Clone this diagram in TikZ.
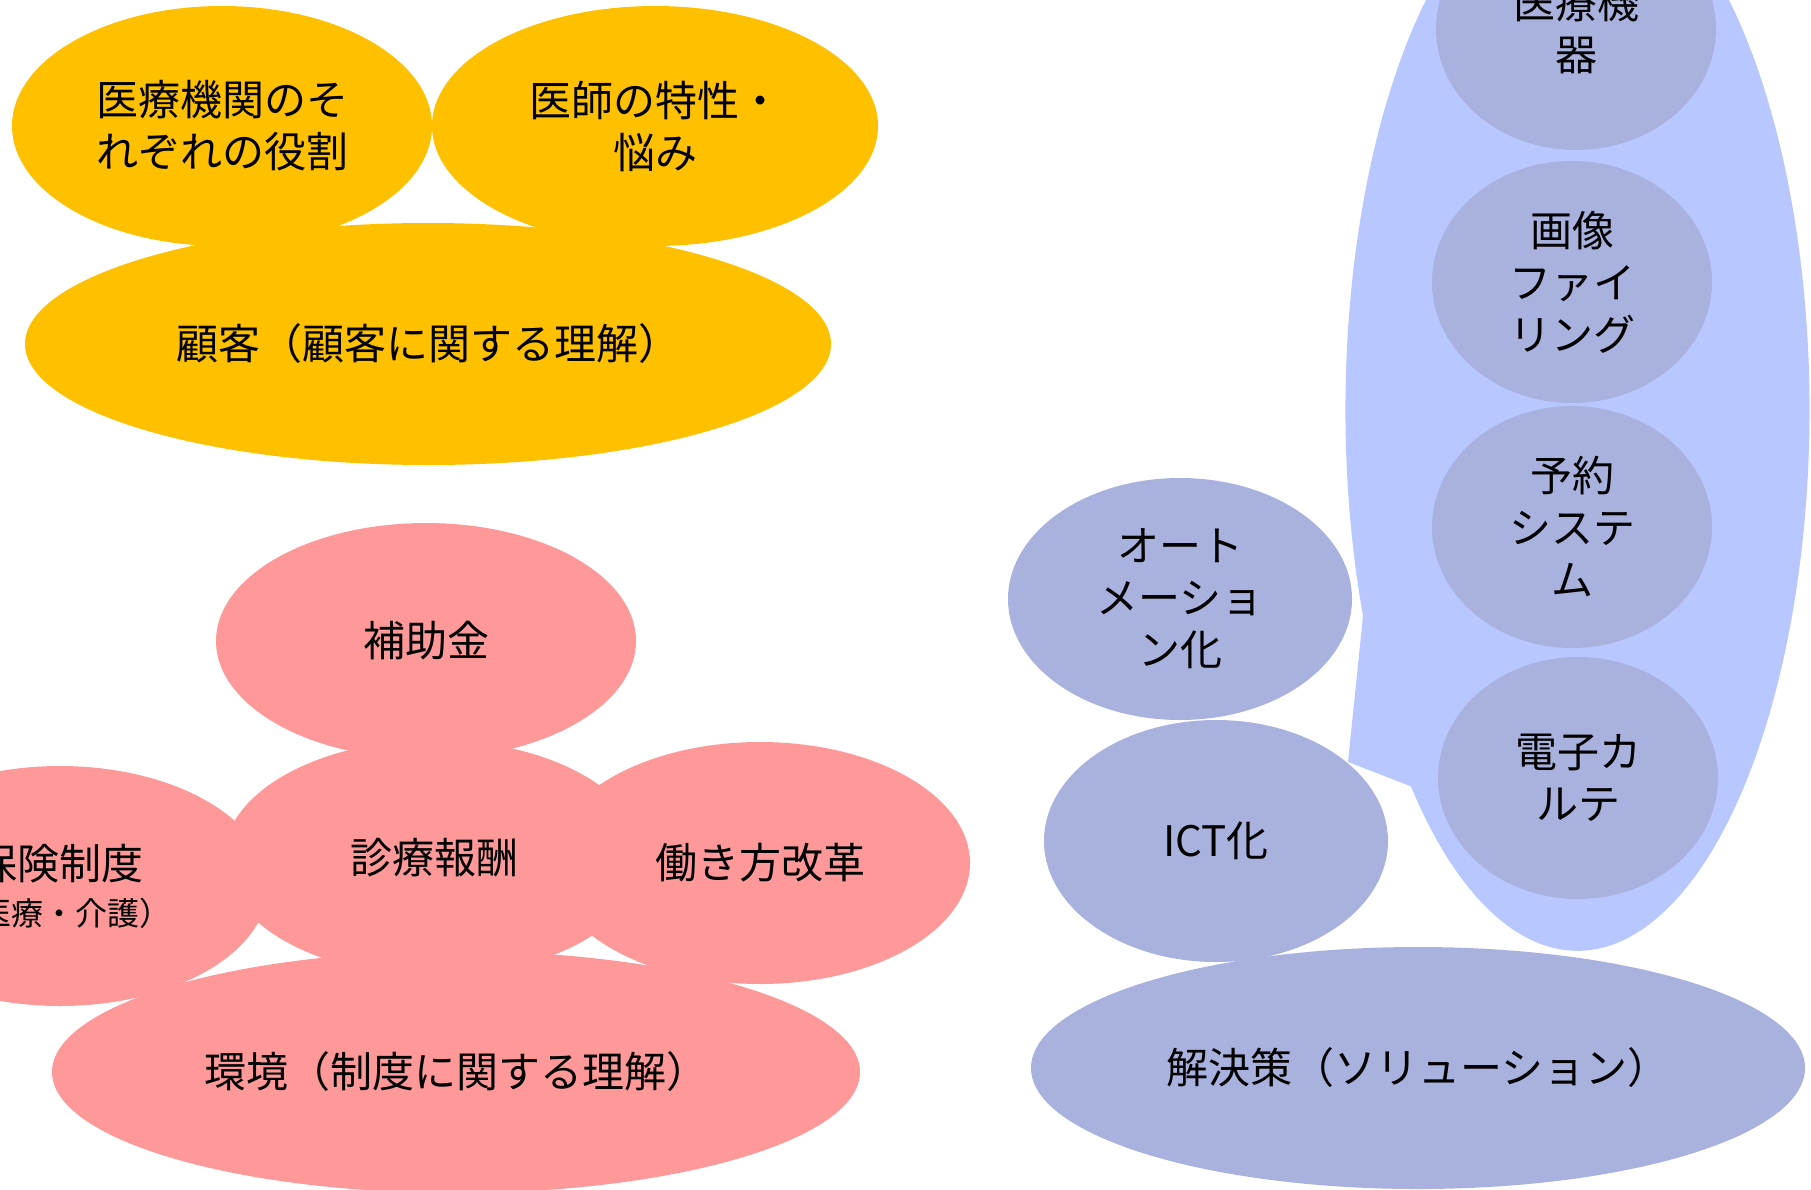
\documentclass[tikz,border=0pt]{standalone}
\usepackage{fontspec}
\setmainfont{Noto Sans CJK JP}
\usetikzlibrary{shapes.geometric}
\definecolor{ygold}{RGB}{255,192,0}
\definecolor{pinkc}{RGB}{255,153,153}
\definecolor{lightblue}{RGB}{184,199,255}
\definecolor{greyblue}{RGB}{169,178,222}
\tikzset{
  blob/.style={ellipse, inner sep=0pt, align=center, text=black,
    font=\fontsize{42}{52}\selectfont},
  yblob/.style={blob, fill=ygold},
  pblob/.style={blob, fill=pinkc},
  bblob/.style={blob, fill=greyblue},
}
\begin{document}
\begin{tikzpicture}[x=1pt,y=1pt]
\useasboundingbox (0,0) rectangle (1811,-1189);
\clip (0,0) rectangle (1811,-1189);
% yellow group
\node[yblob, minimum width=420pt, minimum height=240pt] (roles) at (222,-126) {医療機関のそ\\れぞれの役割};
\node[yblob, minimum width=446pt, minimum height=240pt] (doctor) at (655,-126) {医師の特性・\\悩み};
\node[yblob, minimum width=806pt, minimum height=242pt] (customer) at (428,-344) {顧客（顧客に関する理解）};
% pink group
\node[pblob, minimum width=420pt, minimum height=236pt] (subsidy) at (426,-641) {補助金};
\node[pblob, minimum width=420pt, minimum height=236pt] (fee) at (434,-858) {診療報酬};
\node[pblob, minimum width=416pt, minimum height=240pt] (insurance) at (60,-886) {保険制度\\[-6pt]{\fontsize{32}{40}\selectfont （医療・介護）}};
\node[pblob, minimum width=420pt, minimum height=242pt] (work) at (760,-863) {働き方改革};
\node[pblob, minimum width=808pt, minimum height=242pt] (env) at (456,-1072) {環境（制度に関する理解）};
% blue group: callout
\coordinate (tip) at (1348,-762);
\fill[lightblue] (tip) -- (1363,-616) arc[start angle=202.4, end angle=-135.9, x radius=232pt, y radius=541pt] -- cycle;
\node[bblob, minimum width=280pt, minimum height=242pt] (device) at (1576,-29) {医療機\\器};
\node[bblob, minimum width=280pt, minimum height=242pt] (imaging) at (1572,-282) {画像\\ファイ\\リング};
\node[bblob, minimum width=280pt, minimum height=242pt] (booking) at (1572,-527) {予約\\システ\\ム};
\node[bblob, minimum width=280pt, minimum height=242pt] (emr) at (1578,-778) {電子カ\\ルテ};
\node[bblob, minimum width=344pt, minimum height=242pt] (auto) at (1180,-599) {オート\\メーショ\\ン化};
\node[bblob, minimum width=344pt, minimum height=242pt] (ict) at (1216,-841) {ICT化};
\node[bblob, minimum width=774pt, minimum height=242pt] (solution) at (1418,-1068) {解決策（ソリューション）};
\end{tikzpicture}
\end{document}
